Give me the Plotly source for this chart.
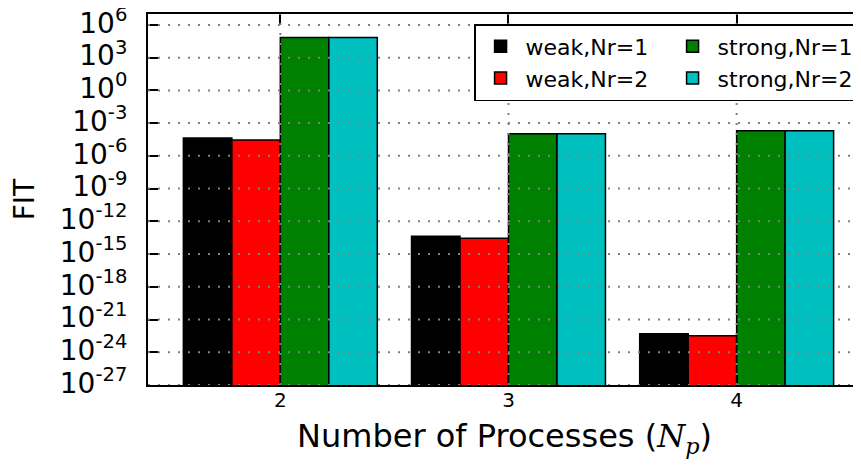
import plotly.graph_objects as go

# ---- data ----
processes = [2, 3, 4]
weak_nr1 = [4.3e-5, 4.3e-14, 5.0e-23]
weak_nr2 = [2.8e-5, 2.8e-14, 3.3e-23]
strong_nr1 = [7.0e4, 1.05e-4, 2.0e-4]
strong_nr2 = [7.0e4, 1.05e-4, 2.0e-4]
series_names = ["weak,Nr=1", "weak,Nr=2", "strong,Nr=1", "strong,Nr=2"]
series_colors = ["#000000", "#ff0000", "#008000", "#00bfbf"]
legend_ranks = [1, 3, 2, 4]
y_exponents = [6, 3, 0, -3, -6, -9, -12, -15, -18, -21, -24, -27]
y_tickvals = [10.0 ** e for e in y_exponents]
y_ticktext = ["10<sup>%d</sup>" % e for e in y_exponents]

FONT = "DejaVu Sans, Liberation Sans, sans-serif"

fig = go.Figure()
for name, vals, col, rank in zip(series_names, [weak_nr1, weak_nr2, strong_nr1, strong_nr2],
                                 series_colors, legend_ranks):
    fig.add_trace(go.Bar(
        x=processes, y=vals, name=name, legendrank=rank,
        marker=dict(color=col, line=dict(color="black", width=1.5)),
    ))

# dotted grid drawn above the bars
shapes = []
for e in y_exponents:
    shapes.append(dict(type="line", xref="paper", yref="y", x0=0, x1=1,
                       y0=10.0 ** e, y1=10.0 ** e, layer="above",
                       line=dict(color="#808080", width=2, dash="2px,8px")))
for p in processes:
    shapes.append(dict(type="line", xref="x", yref="paper", x0=p, x1=p,
                       y0=0, y1=1, layer="above",
                       line=dict(color="#808080", width=2, dash="2px,8px")))

fig.update_layout(
    width=853, height=460,
    margin=dict(l=140, r=0, t=6, b=83, autoexpand=False),
    paper_bgcolor="white", plot_bgcolor="white",
    font=dict(family=FONT, color="black"),
    barmode="group", bargap=0.15, bargroupgap=0,
    shapes=shapes,
    showlegend=True,
    legend=dict(
        orientation="h", x=1.0001, xanchor="right", y=0.973, yanchor="top",
        entrywidth=137, entrywidthmode="pixels", itemwidth=40,
        font=dict(size=22, family=FONT),
        bgcolor="white", bordercolor="black", borderwidth=1.5,
        traceorder="normal",
    ),
)
fig.update_xaxes(
    range=[1.42, 4.545], tickvals=processes, ticktext=[str(p) for p in processes],
    ticks="inside", ticklen=10, tickwidth=1.5, tickcolor="black",
    showline=True, linecolor="black", linewidth=2, mirror="ticks",
    showgrid=False, zeroline=False,
    tickfont=dict(size=20, family=FONT), ticklabelstandoff=-4,
    title=dict(text="Number of Processes (<span style=\"font-family:'DejaVu Serif'\"><i>N</i><sub><i>p</i></sub></span>)",
               font=dict(size=32, family=FONT), standoff=14),
)
fig.update_yaxes(
    type="log", range=[-27, 7], tickvals=y_tickvals, ticktext=y_ticktext,
    ticks="inside", ticklen=10, tickwidth=1.5, tickcolor="black",
    showline=True, linecolor="black", linewidth=2,
    showgrid=False, zeroline=False, ticklabeloverflow="allow",
    tickfont=dict(size=28, family=FONT), ticklabelstandoff=13, ticklabelshift=-2,
    title=dict(text="FIT", font=dict(size=28, family=FONT), standoff=20),
)

fig.write_html("out.html")
